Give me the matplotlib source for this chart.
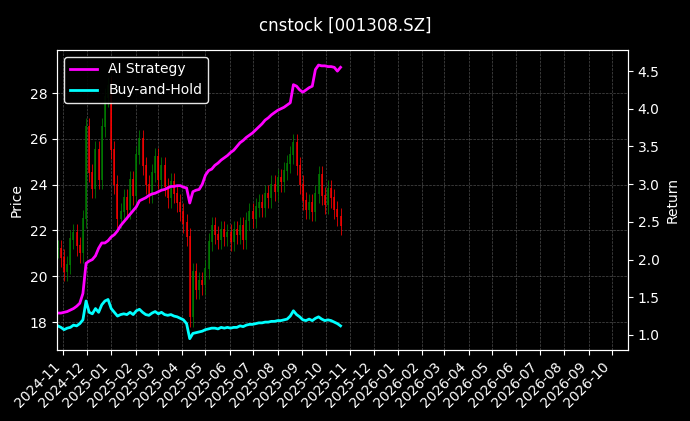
import matplotlib
matplotlib.use("Agg")
import matplotlib.pyplot as plt
import matplotlib.dates as mdates
import numpy as np
import pandas as pd

title = "cnstock [001308.SZ]"
dates = pd.date_range("2024-10-25", periods=91, freq="4D")

close = [21.2, 20.8, 20.2, 20.5, 21.6, 21.9, 21.3, 21.0, 22.5, 26.5,
         24.5, 23.8, 25.5, 24.2, 26.5, 27.8, 28.3, 25.5, 24.0, 22.5,
         22.8, 23.4, 22.9, 24.2, 23.5, 25.3, 26.0, 24.8, 24.0, 23.6,
         24.5, 25.2, 24.2, 24.8, 23.9, 23.4, 24.1, 23.6, 23.2, 22.8,
         22.3, 21.7, 18.2, 20.2, 19.4, 19.8, 19.6, 20.3, 21.5, 22.2,
         21.8, 21.6, 22.0, 21.7, 21.9, 21.5, 22.0, 21.8, 22.2, 21.6,
         22.4, 22.8, 22.5, 23.0, 23.2, 23.0, 23.6, 23.4, 24.0, 23.7,
         24.3, 24.1, 24.6, 24.9, 25.3, 25.8, 24.8, 24.0, 23.3, 22.9,
         23.2, 22.8, 23.6, 24.4, 23.5, 23.1, 23.8, 23.4, 22.9, 22.6, 22.2]

ai_strategy = [1.29, 1.29, 1.30, 1.31, 1.33, 1.35, 1.38, 1.42, 1.55, 1.95,
               1.98, 2.00, 2.05, 2.15, 2.22, 2.22, 2.25, 2.30, 2.33, 2.38,
               2.45, 2.50, 2.55, 2.60, 2.65, 2.70, 2.78, 2.80, 2.82, 2.85,
               2.87, 2.88, 2.90, 2.92, 2.93, 2.95, 2.97, 2.97, 2.98, 2.98,
               2.96, 2.95, 2.75, 2.90, 2.92, 2.93, 3.00, 3.12, 3.18, 3.20,
               3.25, 3.28, 3.32, 3.35, 3.38, 3.42, 3.45, 3.50, 3.55, 3.58,
               3.62, 3.65, 3.68, 3.72, 3.76, 3.80, 3.85, 3.88, 3.92, 3.95,
               3.98, 4.00, 4.02, 4.05, 4.08, 4.32, 4.30, 4.25, 4.22, 4.25,
               4.28, 4.30, 4.52, 4.58, 4.57, 4.57, 4.56, 4.56, 4.55, 4.50, 4.55]

buy_hold = [1.12, 1.10, 1.07, 1.09, 1.10, 1.13, 1.12, 1.15, 1.20, 1.45,
            1.30, 1.28, 1.35, 1.30, 1.40, 1.45, 1.47, 1.35, 1.30, 1.25,
            1.27, 1.28, 1.27, 1.30, 1.27, 1.32, 1.34, 1.30, 1.27, 1.26,
            1.29, 1.31, 1.28, 1.30, 1.27, 1.26, 1.27, 1.25, 1.24, 1.22,
            1.20, 1.15, 0.95, 1.02, 1.03, 1.04, 1.05, 1.07, 1.08, 1.09,
            1.09, 1.08, 1.10, 1.09, 1.10, 1.09, 1.10, 1.10, 1.12, 1.11,
            1.13, 1.14, 1.14, 1.15, 1.16, 1.16, 1.17, 1.17, 1.18, 1.18,
            1.19, 1.19, 1.20, 1.21, 1.25, 1.32, 1.27, 1.24, 1.20, 1.19,
            1.21, 1.19, 1.22, 1.24, 1.21, 1.19, 1.20, 1.19, 1.17, 1.15, 1.12]

plt.style.use("dark_background")
fig = plt.figure(figsize=(6.9, 4.21), dpi=100)
ax = fig.add_axes([57/690, 71/421, 571/690, 300/421])
ax2 = ax.twinx()

# candles: open = previous close
opens = [close[0]] + close[:-1]
for d, o, c in zip(dates, opens, close):
    col = "green" if c >= o else "red"
    lo, hi = min(o, c), max(o, c)
    ax.vlines(d, lo - 0.4, hi + 0.4, color=col, linewidth=0.7, alpha=0.8)
    ax.vlines(d, lo, hi + 0.05, color=col, linewidth=1.3, alpha=0.8)

ax2.plot(dates, ai_strategy, color="magenta", linewidth=2, label="AI Strategy")
ax2.plot(dates, buy_hold, color="cyan", linewidth=2, label="Buy-and-Hold")

ax.set_xlim(pd.Timestamp("2024-10-24"), pd.Timestamp("2026-10-21"))
ax.set_ylim(16.78, 29.88)
ax2.set_ylim(0.80, 4.78)
ax.set_ylabel("Price")
ax2.set_ylabel("Return")
ax.xaxis.set_major_locator(mdates.MonthLocator())
ax.xaxis.set_major_formatter(mdates.DateFormatter("%Y-%m"))
plt.setp(ax.get_xticklabels(), rotation=45, ha="right")
ax.grid(True, linestyle="--", linewidth=0.5, color="gray", alpha=0.6)
ax2.legend(loc="upper left", edgecolor="white", framealpha=0.9)
fig.suptitle(title, y=0.96)

fig.savefig("out.png", dpi=100)
